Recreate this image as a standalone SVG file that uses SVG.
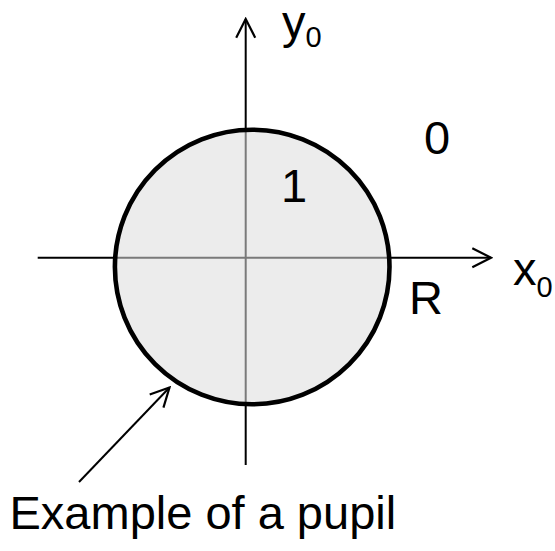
<svg xmlns="http://www.w3.org/2000/svg" width="555" height="551" viewBox="0 0 555 551">
  <style>
    .lbl { font-family: "Liberation Sans", Arial, sans-serif; font-size: 47px; fill: #000; }
    .sub { font-size: 29px; }
    .axis { stroke: #000; stroke-width: 2; fill: none; }
    .inner { stroke: #7a7a7a; stroke-width: 2; fill: none; }
  </style>
  <defs>
    <marker id="open" markerUnits="userSpaceOnUse" markerWidth="24" markerHeight="24" viewBox="-22 -12 24 24" refX="0" refY="0" orient="auto">
      <path d="M -18.7 -9.5 L 0 0 L -18.7 9.5" fill="none" stroke="#000" stroke-width="2.2"/>
    </marker>
  </defs>
  <rect width="555" height="551" fill="#fff"/>
  <g id="connectors">
    <line id="x-axis" class="axis" x1="37.7" y1="257.7" x2="491" y2="257.7" marker-end="url(#open)"/>
    <line id="y-axis" class="axis" x1="245.7" y1="465" x2="245.7" y2="19" marker-end="url(#open)"/>
    <line id="pointer" class="axis" x1="79" y1="482" x2="169.5" y2="387.5" marker-end="url(#open)"/>
  </g>
  <g id="pupil">
    <circle cx="252.2" cy="267" r="137.3" fill="#ececec"/>
    <line class="inner" x1="114" y1="257.7" x2="390" y2="257.7"/>
    <line class="inner" x1="245.7" y1="129" x2="245.7" y2="405"/>
    <circle cx="252.2" cy="267" r="137.3" fill="none" stroke="#000" stroke-width="4.6"/>
  </g>
  <g id="label-1"><text class="lbl" x="281" y="201.5">1</text></g>
  <g id="label-0"><text class="lbl" x="424" y="154">0</text></g>
  <g id="label-R"><text class="lbl" x="409" y="314">R</text></g>
  <g id="label-x0"><text class="lbl" x="513" y="285">x<tspan class="sub" dy="11.7">0</tspan></text></g>
  <g id="label-y0"><text class="lbl" x="282" y="37.6">y<tspan class="sub" dy="9.1">0</tspan></text></g>
  <g id="caption"><text class="lbl" x="9.5" y="529.3">Example of a pupil</text></g>
</svg>
